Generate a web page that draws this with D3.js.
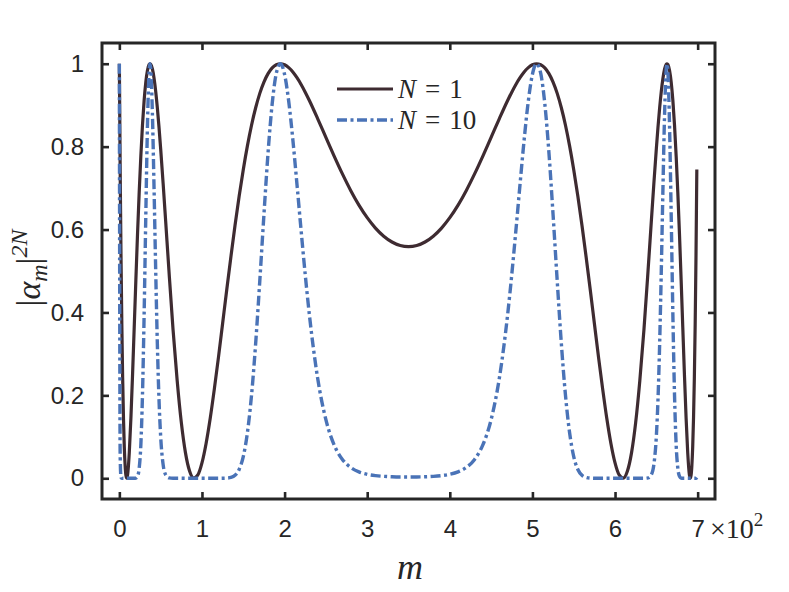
<!DOCTYPE html>
<html><head><meta charset="utf-8">
<script src="https://cdn.jsdelivr.net/npm/d3@7"></script>
<style>body{margin:0;background:#fff} svg{display:block}</style>
</head><body><svg id="c" width="789" height="592"></svg>
<script>
const mIndex = [0,1,2,3,4,5,6,7,8,9,10,12,14,16,18,20,22,24,26,28,30,32,34,36,37,38,40,42,44,46,48,50,53,56,60,65,70,75,80,85,90,95,100,105,110,115,120,125,130,135,140,145,150,155,160,165,170,175,180,185,190,195,200,205,210,215,220,225,230,240,250,260,270,280,290,300,310,320,330,340,350,
360,370,380,390,400,410,420,430,440,450,460,470,475,480,485,490,495,500,505,510,515,520,525,530,535,540,545,550,555,560,565,570,575,580,585,590,595,600,605,610,615,620,625,630,635,640,644,647,650,652,654,656,658,660,662,663,664,666,668,670,672,674,676,678,680,682,684,686,688,690,691,692,693,694,695,696,697,698,699];

const alphaN1 = [1,0.7448,0.5369,0.3711,0.2419,0.1449,0.0755,0.0306,0.0065,0.0001,0.0086,0.0609,0.1459,0.2506,0.3643,0.4785,0.5892,0.6891,0.7769,0.8521,0.9115,0.9551,0.9837,0.9980,1.0000,0.9988,0.9873,0.9650,0.9333,0.8934,0.8470,0.7954,0.7111,0.6220,0.5019,0.3588,0.2355,0.1347,0.0619,0.0175,0.0004,0.0080,0.0371,0.0840,0.1447,0.2157,0.2922,0.3735,0.4548,0.5339,0.6098,0.6801,0.7444,0.8018,0.8516,0.8938,0.9285,0.9557,0.9761,0.9899,0.9977,1.0000,0.9974,0.9905,0.9800,0.9662,0.9499,0.9314,0.9113,0.8677,0.8223,0.7772,0.7342,0.6944,0.6589,0.6286,0.6035,0.5840,0.5700,0.5616,0.5588,
0.5616,0.5700,0.5840,0.6035,0.6286,0.6589,0.6944,0.7342,0.7772,0.8223,0.8677,0.9113,0.9314,0.9499,0.9662,0.9800,0.9905,0.9974,1.0000,0.9977,0.9899,0.9761,0.9557,0.9285,0.8938,0.8516,0.8018,0.7444,0.6801,0.6098,0.5339,0.4548,0.3735,0.2922,0.2157,0.1447,0.0840,0.0371,0.0080,0.0004,0.0175,0.0619,0.1347,0.2355,0.3588,0.5019,0.6220,0.7111,0.7954,0.8470,0.8934,0.9333,0.9650,0.9873,0.9988,1.0000,0.9980,0.9837,0.9551,0.9115,0.8521,0.7769,0.6891,0.5892,0.4785,0.3643,0.2506,0.1459,0.0609,0.0086,0.0001,0.0065,0.0306,0.0755,0.1449,0.2419,0.3711,0.5369,0.7448];

const alphaN10 = [1,0.0526,0.0020,0,0,0,0,0,0,0,0,0,0,0,0,0.0006,0.0050,0.0241,0.0801,0.2017,0.3958,0.6318,0.8485,0.9802,1.0000,0.9877,0.8801,0.7003,0.5016,0.3240,0.1899,0.1013,0.0330,0.0087,0.0010,0,0,0,0,0,0,0,0,0,0,0,0,0.0001,0.0004,0.0019,0.0071,0.0212,0.0523,0.1098,0.2006,0.3253,0.4762,0.6357,0.7851,0.9035,0.9772,1.0000,0.9744,0.9094,0.8169,0.7091,0.5980,0.4913,0.3948,0.2420,0.1414,0.0804,0.0455,0.0261,0.0154,0.0096,0.0064,0.0046,0.0036,0.0031,0.0030,
0.0031,0.0036,0.0046,0.0064,0.0096,0.0154,0.0261,0.0455,0.0804,0.1414,0.2420,0.3948,0.4913,0.5980,0.7091,0.8169,0.9094,0.9744,1.0000,0.9772,0.9035,0.7851,0.6357,0.4762,0.3253,0.2006,0.1098,0.0523,0.0212,0.0071,0.0019,0.0004,0.0001,0,0,0,0,0,0,0,0,0,0,0,0,0.0010,0.0087,0.0330,0.1013,0.1899,0.3240,0.5016,0.7003,0.8801,0.9877,1.0000,0.9802,0.8485,0.6318,0.3958,0.2017,0.0801,0.0241,0.0050,0.0006,0,0,0,0,0,0,0,0,0,0,0,0,0,0.0020,0.0526];

const seriesNames = ["1", "10"];
const xTicks = [0,100,200,300,400,500,600,700];
const xTickLabels = ["0","1","2","3","4","5","6","7"];
const yTicks = [0,0.2,0.4,0.6,0.8,1];
const yTickLabels = ["0","0.2","0.4","0.6","0.8","1"];

const colN1 = "#3e2b31", colN10 = "#4a73b7", axCol = "#262626";
const L = 102, R = 715, T = 43, B = 499;
const svg = d3.select("#c");
const x = d3.scaleLinear().domain([-21, 721]).range([L, R]);
const y = d3.scaleLinear().domain([-0.05, 1.05]).range([B, T]);

const sansFont = "'Liberation Sans', Arial, sans-serif";
const serifFont = "'Liberation Serif', 'DejaVu Serif', serif";

const d1 = mIndex.map((m, i) => [m, alphaN1[i]]);
const d10 = mIndex.map((m, i) => [m, alphaN10[i]]);
const line = d3.line().x(d => x(d[0])).y(d => y(d[1])).curve(d3.curveMonotoneX);

svg.append("path").datum(d1).attr("d", line)
  .attr("fill", "none").attr("stroke", colN1).attr("stroke-width", 3.2)
  .attr("stroke-linejoin", "round");
svg.append("path").datum(d10).attr("d", line)
  .attr("fill", "none").attr("stroke", colN10).attr("stroke-width", 3.4)
  .attr("stroke-dasharray", "10,3.5,3,3.5").attr("stroke-linejoin", "round");

function styleAxis(g, withText) {
  g.select(".domain").remove();
  g.selectAll(".tick line").attr("stroke", axCol).attr("stroke-width", 2.6);
  if (withText) g.selectAll(".tick text").attr("fill", axCol)
      .style("font-family", sansFont).style("font-size", "24px");
  else g.selectAll(".tick text").remove();
}
svg.append("g").attr("transform", `translate(0,${B})`)
  .call(d3.axisBottom(x).tickValues(xTicks).tickFormat((d, i) => xTickLabels[i]).tickSize(-7).tickPadding(21))
  .call(g => styleAxis(g, true));
svg.append("g").attr("transform", `translate(0,${T})`)
  .call(d3.axisTop(x).tickValues(xTicks).tickSize(-7))
  .call(g => styleAxis(g, false));
svg.append("g").attr("transform", `translate(${L},0)`)
  .call(d3.axisLeft(y).tickValues(yTicks).tickFormat((d, i) => yTickLabels[i]).tickSize(-7).tickPadding(18))
  .call(g => styleAxis(g, true));
svg.append("g").attr("transform", `translate(${R},0)`)
  .call(d3.axisRight(y).tickValues(yTicks).tickSize(-7))
  .call(g => styleAxis(g, false));

svg.append("rect").attr("x", L).attr("y", T).attr("width", R - L).attr("height", B - T)
  .attr("fill", "none").attr("stroke", axCol).attr("stroke-width", 3);

// exponent label
const ex = svg.append("text").attr("x", 710).attr("y", 538).attr("fill", axCol)
  .style("font-family", serifFont).style("font-size", "28px");
ex.append("tspan").text("×10");
ex.append("tspan").attr("dy", -12).style("font-size", "19px").text("2");

// x label
svg.append("text").attr("x", 410).attr("y", 579).attr("text-anchor", "middle")
  .attr("fill", axCol).style("font-family", serifFont).style("font-style", "italic")
  .style("font-size", "36px").text("m");

// y label
const yl = svg.append("text").attr("transform", "translate(40,268) rotate(-90)")
  .attr("text-anchor", "middle").attr("fill", axCol)
  .style("font-family", serifFont).style("font-size", "34px");
yl.append("tspan").text("|");
yl.append("tspan").style("font-style", "italic").text("α");
yl.append("tspan").attr("dy", 7).style("font-style", "italic").style("font-size", "24px").text("m");
yl.append("tspan").attr("dy", -7).text("|");
yl.append("tspan").attr("dy", -13).style("font-style", "italic").style("font-size", "24px").text("2N");

// legend
const legY = [89, 120];
[colN1, colN10].forEach((c, i) => {
  const ln = svg.append("line").attr("x1", 337).attr("x2", 393).attr("y1", legY[i]).attr("y2", legY[i])
    .attr("stroke", c).attr("stroke-width", i ? 3.4 : 3.2);
  if (i === 1) ln.attr("stroke-dasharray", "10,3.5,3,3.5");
  const t = svg.append("text").attr("x", 398).attr("y", legY[i] + 9).attr("fill", axCol)
    .style("font-family", serifFont).style("font-size", "27px");
  t.append("tspan").style("font-style", "italic").text("N");
  t.append("tspan").attr("dx", 9).text("=");
  t.append("tspan").attr("dx", 9).text(seriesNames[i]);
});
</script>
</body></html>
